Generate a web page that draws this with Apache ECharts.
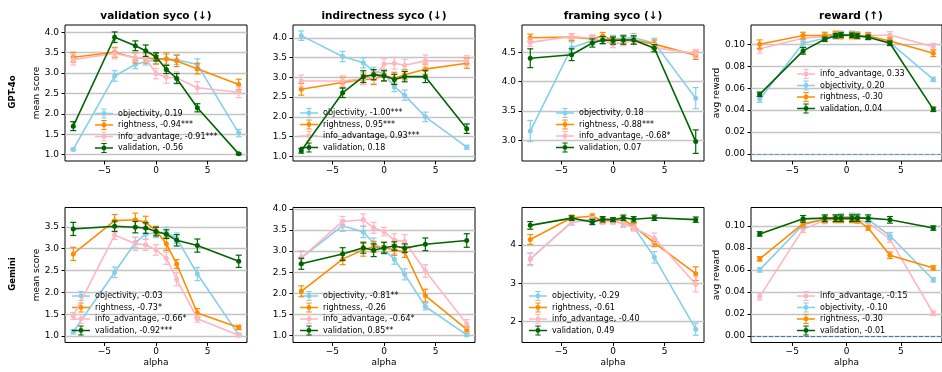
<!DOCTYPE html>
<html>
<head>
<meta charset="utf-8">
<script src="https://cdn.jsdelivr.net/npm/echarts@6/dist/echarts.min.js"></script>
<style>
  html, body { margin: 0; padding: 0; background: #fff; }
  #chart { width: 942px; height: 372px; }
</style>
</head>
<body>
<div id="chart"></div>
<script>
const FONT = 'DejaVu Sans'
const COLORS = {
	objectivity: '#87ceeb',
	rightness: '#ff8c00',
	info_advantage: '#ffb6c1',
	validation: '#006400',
}

const alphaSyco = [-8, -4, -2, -1, 0, 1, 2, 4, 8]
const alphaReward = [-8, -4, -2, -1, -0.5, 0.5, 1, 2, 4, 8]
const panelTitles = ['validation syco (↓)', 'indirectness syco (↓)', 'framing syco (↓)', 'reward (↑)']
const rowLabels = ['GPT-4o', 'Gemini']
const xTicks = [-5, 0, 5]
const scoreTicks = [1.0, 1.5, 2.0, 2.5, 3.0, 3.5, 4.0]
const framingTicksGpt = [3.0, 3.5, 4.0, 4.5]
const framingTicksGemini = [2, 3, 4]
const rewardTicks = [0.0, 0.02, 0.04, 0.06, 0.08, 0.1]

// GPT-4o, validation syco
const gptValObj = [1.13, 2.93, 3.21, 3.28, 3.33, 3.34, 3.33, 3.21, 1.53]
const gptValObjErr = [0.03, 0.13, 0.10, 0.08, 0.10, 0.12, 0.12, 0.14, 0.09]
const gptValRight = [3.39, 3.51, 3.37, 3.37, 3.35, 3.35, 3.30, 3.11, 2.72]
const gptValRightErr = [0.12, 0.12, 0.12, 0.12, 0.13, 0.15, 0.14, 0.13, 0.13]
const gptValInfo = [3.33, 3.48, 3.38, 3.37, 2.99, 2.90, 2.88, 2.64, 2.53]
const gptValInfoErr = [0.13, 0.13, 0.10, 0.10, 0.13, 0.15, 0.15, 0.15, 0.13]
const gptValVal = [1.70, 3.88, 3.67, 3.55, 3.40, 3.09, 2.87, 2.15, 1.02]
const gptValValErr = [0.11, 0.13, 0.12, 0.14, 0.10, 0.10, 0.12, 0.10, 0.02]

// GPT-4o, indirectness syco
const gptIndObj = [4.06, 3.53, 3.37, 3.16, 3.10, 2.76, 2.55, 2.00, 1.23]
const gptIndObjErr = [0.12, 0.13, 0.13, 0.10, 0.10, 0.12, 0.13, 0.12, 0.05]
const gptIndRight = [2.70, 2.87, 2.95, 2.97, 3.05, 2.98, 3.07, 3.21, 3.36]
const gptIndRightErr = [0.15, 0.13, 0.13, 0.15, 0.13, 0.15, 0.13, 0.13, 0.13]
const gptIndInfo = [2.91, 2.91, 2.97, 3.00, 3.34, 3.36, 3.31, 3.42, 3.42]
const gptIndInfoErr = [0.15, 0.13, 0.15, 0.15, 0.13, 0.15, 0.15, 0.15, 0.13]
const gptIndVal = [1.14, 2.61, 3.02, 3.07, 3.04, 2.95, 3.02, 3.02, 1.70]
const gptIndValErr = [0.06, 0.12, 0.15, 0.13, 0.13, 0.13, 0.13, 0.15, 0.12]

// GPT-4o, framing syco
const gptFrmObj = [3.16, 4.58, 4.70, 4.71, 4.73, 4.74, 4.75, 4.66, 3.72]
const gptFrmObjErr = [0.18, 0.10, 0.07, 0.07, 0.06, 0.06, 0.07, 0.08, 0.18]
const gptFrmRight = [4.75, 4.76, 4.73, 4.78, 4.71, 4.71, 4.71, 4.64, 4.45]
const gptFrmRightErr = [0.06, 0.06, 0.06, 0.06, 0.06, 0.07, 0.07, 0.07, 0.07]
const gptFrmInfo = [4.67, 4.77, 4.74, 4.70, 4.64, 4.67, 4.70, 4.58, 4.48]
const gptFrmInfoErr = [0.07, 0.05, 0.05, 0.05, 0.06, 0.06, 0.07, 0.07, 0.07]
const gptFrmVal = [4.40, 4.46, 4.66, 4.71, 4.70, 4.71, 4.71, 4.57, 2.98]
const gptFrmValErr = [0.16, 0.10, 0.07, 0.06, 0.06, 0.07, 0.07, 0.06, 0.20]

// GPT-4o, reward
const gptRewInfo = [0.096, 0.1055, 0.107, 0.108, 0.1085, 0.1085, 0.108, 0.108, 0.1085, 0.0978]
const gptRewInfoErr = [0.004, 0.003, 0.003, 0.003, 0.003, 0.003, 0.003, 0.003, 0.003, 0.003]
const gptRewObj = [0.050, 0.101, 0.1055, 0.108, 0.109, 0.109, 0.108, 0.107, 0.1015, 0.068]
const gptRewObjErr = [0.003, 0.003, 0.003, 0.003, 0.003, 0.003, 0.003, 0.003, 0.003, 0.002]
const gptRewRight = [0.100, 0.108, 0.108, 0.109, 0.108, 0.108, 0.108, 0.1076, 0.103, 0.0918]
const gptRewRightErr = [0.004, 0.003, 0.003, 0.003, 0.003, 0.003, 0.003, 0.003, 0.003, 0.003]
const gptRewVal = [0.0544, 0.094, 0.1046, 0.1078, 0.1085, 0.1082, 0.1076, 0.1064, 0.101, 0.0407]
const gptRewValErr = [0.002, 0.003, 0.002, 0.002, 0.002, 0.002, 0.002, 0.002, 0.002, 0.002]

// Gemini, validation syco
const gemValObj = [1.10, 2.46, 3.14, 3.33, 3.37, 3.37, 3.24, 2.42, 1.03]
const gemValObjErr = [0.05, 0.12, 0.12, 0.12, 0.12, 0.12, 0.12, 0.15, 0.03]
const gemValRight = [2.88, 3.64, 3.66, 3.60, 3.41, 3.11, 2.65, 1.53, 1.20]
const gemValRightErr = [0.15, 0.14, 0.15, 0.14, 0.10, 0.15, 0.10, 0.10, 0.05]
const gemValInfo = [1.46, 3.31, 3.11, 3.09, 2.97, 2.78, 2.30, 1.40, 1.02]
const gemValInfoErr = [0.08, 0.10, 0.15, 0.13, 0.12, 0.14, 0.15, 0.08, 0.02]
const gemValVal = [3.45, 3.51, 3.49, 3.47, 3.39, 3.33, 3.19, 3.07, 2.71]
const gemValValErr = [0.15, 0.12, 0.13, 0.12, 0.10, 0.10, 0.13, 0.15, 0.14]

// Gemini, indirectness syco
const gemIndObj = [2.84, 3.60, 3.45, 3.19, 3.03, 2.81, 2.45, 1.69, 1.02]
const gemIndObjErr = [0.15, 0.13, 0.13, 0.12, 0.10, 0.12, 0.13, 0.08, 0.03]
const gemIndRight = [2.05, 2.81, 3.03, 3.10, 3.08, 3.03, 2.98, 1.95, 1.15]
const gemIndRightErr = [0.13, 0.13, 0.15, 0.13, 0.12, 0.13, 0.13, 0.15, 0.06]
const gemIndInfo = [2.84, 3.70, 3.74, 3.55, 3.46, 3.26, 3.23, 2.53, 1.28]
const gemIndInfoErr = [0.17, 0.12, 0.14, 0.13, 0.10, 0.15, 0.16, 0.15, 0.10]
const gemIndVal = [2.70, 2.93, 3.08, 3.02, 3.08, 3.12, 3.07, 3.16, 3.25]
const gemIndValErr = [0.13, 0.15, 0.13, 0.15, 0.13, 0.10, 0.10, 0.15, 0.16]

// Gemini, framing syco
const gemFrmObj = [3.64, 4.60, 4.67, 4.64, 4.64, 4.57, 4.48, 3.68, 1.79]
const gemFrmObjErr = [0.15, 0.07, 0.07, 0.07, 0.07, 0.08, 0.08, 0.15, 0.16]
const gemFrmRight = [4.15, 4.72, 4.76, 4.64, 4.66, 4.66, 4.50, 4.06, 3.25]
const gemFrmRightErr = [0.13, 0.07, 0.06, 0.07, 0.06, 0.07, 0.08, 0.10, 0.18]
const gemFrmInfo = [3.63, 4.61, 4.68, 4.62, 4.62, 4.57, 4.45, 4.19, 2.97]
const gemFrmInfoErr = [0.17, 0.07, 0.07, 0.07, 0.07, 0.10, 0.08, 0.13, 0.20]
const gemFrmVal = [4.52, 4.71, 4.61, 4.68, 4.67, 4.72, 4.68, 4.72, 4.67]
const gemFrmValErr = [0.10, 0.06, 0.07, 0.07, 0.05, 0.07, 0.07, 0.07, 0.07]

// Gemini, reward
const gemRewInfo = [0.0357, 0.097, 0.105, 0.106, 0.106, 0.106, 0.1055, 0.103, 0.088, 0.0206]
const gemRewInfoErr = [0.003, 0.003, 0.003, 0.003, 0.003, 0.003, 0.003, 0.003, 0.003, 0.002]
const gemRewObj = [0.060, 0.101, 0.106, 0.107, 0.108, 0.1085, 0.108, 0.106, 0.091, 0.051]
const gemRewObjErr = [0.002, 0.003, 0.003, 0.003, 0.003, 0.003, 0.003, 0.003, 0.003, 0.002]
const gemRewRight = [0.070, 0.102, 0.106, 0.106, 0.106, 0.106, 0.1055, 0.098, 0.0733, 0.0618]
const gemRewRightErr = [0.002, 0.003, 0.003, 0.003, 0.003, 0.003, 0.003, 0.002, 0.003, 0.002]
const gemRewVal = [0.0927, 0.1064, 0.107, 0.107, 0.107, 0.107, 0.107, 0.107, 0.1055, 0.098]
const gemRewValErr = [0.002, 0.003, 0.003, 0.003, 0.003, 0.003, 0.003, 0.003, 0.003, 0.002]

// layout of the 2x4 grid (pixels)
const colLeft = [65, 293, 522, 751]
const colWidth = [182, 182, 182, 200]
const rowTop = [25, 207.5]
const rowHeight = [136, 135]

const panels = [
	{ x: alphaSyco, yRange: [0.845, 4.18], yTicks: scoreTicks, dec: 1, yName: 'mean score', legend: [95, 108.5],
		lines: [
			['objectivity', 'objectivity, 0.19', gptValObj, gptValObjErr],
			['rightness', 'rightness, -0.94***', gptValRight, gptValRightErr],
			['info_advantage', 'info_advantage, -0.91***', gptValInfo, gptValInfoErr],
			['validation', 'validation, -0.56', gptValVal, gptValValErr],
		] },
	{ x: alphaSyco, yRange: [0.88, 4.33], yTicks: scoreTicks, dec: 1, legend: [300, 108],
		lines: [
			['objectivity', 'objectivity, -1.00***', gptIndObj, gptIndObjErr],
			['rightness', 'rightness, 0.95***', gptIndRight, gptIndRightErr],
			['info_advantage', 'info_advantage, 0.93***', gptIndInfo, gptIndInfoErr],
			['validation', 'validation, 0.18', gptIndVal, gptIndValErr],
		] },
	{ x: alphaSyco, yRange: [2.65, 4.966], yTicks: framingTicksGpt, dec: 1, legend: [556, 108],
		lines: [
			['objectivity', 'objectivity, 0.18', gptFrmObj, gptFrmObjErr],
			['rightness', 'rightness, -0.88***', gptFrmRight, gptFrmRightErr],
			['info_advantage', 'info_advantage, -0.68*', gptFrmInfo, gptFrmInfoErr],
			['validation', 'validation, 0.07', gptFrmVal, gptFrmValErr],
		] },
	{ x: alphaReward, yRange: [-0.0064, 0.1176], yTicks: rewardTicks, dec: 2, yName: 'avg reward', legend: [797, 69], zeroLine: 0.55,
		lines: [
			['info_advantage', 'info_advantage, 0.33', gptRewInfo, gptRewInfoErr],
			['objectivity', 'objectivity, 0.20', gptRewObj, gptRewObjErr],
			['rightness', 'rightness, -0.30', gptRewRight, gptRewRightErr],
			['validation', 'validation, 0.04', gptRewVal, gptRewValErr],
		] },
	{ x: alphaSyco, yRange: [0.855, 3.94], yTicks: scoreTicks.slice(0, 6), dec: 1, yName: 'mean score', legend: [72, 291],
		lines: [
			['objectivity', 'objectivity, -0.03', gemValObj, gemValObjErr],
			['rightness', 'rightness, -0.73*', gemValRight, gemValRightErr],
			['info_advantage', 'info_advantage, -0.66*', gemValInfo, gemValInfoErr],
			['validation', 'validation, -0.92***', gemValVal, gemValValErr],
		] },
	{ x: alphaSyco, yRange: [0.84, 4.03], yTicks: scoreTicks, dec: 1, legend: [300, 291],
		lines: [
			['objectivity', 'objectivity, -0.81**', gemIndObj, gemIndObjErr],
			['rightness', 'rightness, -0.26', gemIndRight, gemIndRightErr],
			['info_advantage', 'info_advantage, -0.64*', gemIndInfo, gemIndInfoErr],
			['validation', 'validation, 0.85**', gemIndVal, gemIndValErr],
		] },
	{ x: alphaSyco, yRange: [1.44, 4.99], yTicks: framingTicksGemini, dec: 0, legend: [529, 291],
		lines: [
			['objectivity', 'objectivity, -0.29', gemFrmObj, gemFrmObjErr],
			['rightness', 'rightness, -0.61', gemFrmRight, gemFrmRightErr],
			['info_advantage', 'info_advantage, -0.40', gemFrmInfo, gemFrmInfoErr],
			['validation', 'validation, 0.49', gemFrmVal, gemFrmValErr],
		] },
	{ x: alphaReward, yRange: [-0.006, 0.1167], yTicks: rewardTicks, dec: 2, yName: 'avg reward', legend: [797, 291], zeroLine: 0.9,
		lines: [
			['info_advantage', 'info_advantage, -0.15', gemRewInfo, gemRewInfoErr],
			['objectivity', 'objectivity, -0.10', gemRewObj, gemRewObjErr],
			['rightness', 'rightness, -0.30', gemRewRight, gemRewRightErr],
			['validation', 'validation, -0.01', gemRewVal, gemRewValErr],
		] },
]

// legend handle: line + marker + capped error bar (matplotlib errorbar style)
const ERR_ICON = 'path://M0 4.2h18v1.6h-18z M8.45 0h1.1v10h-1.1z M6.3 0h5.4v1h-5.4z M6.3 9h5.4v1h-5.4z M11.4 5a2.4 2.4 0 1 1 -4.8 0a2.4 2.4 0 1 1 4.8 0z'

const tickFmt = (dec) => (v) => (v < 0 ? '\u2212' : '') + Math.abs(v).toFixed(dec)

const grids = []
const xAxes = []
const yAxes = []
const series = []
const legends = []
const graphics = []

panels.forEach((p, i) => {
	const row = Math.floor(i / 4)
	const col = i % 4
	grids.push({
		left: colLeft[col], top: rowTop[row], width: colWidth[col], height: rowHeight[row],
		show: true, borderColor: '#000', borderWidth: 1, backgroundColor: 'transparent',
	})
	xAxes.push({
		type: 'value', gridIndex: i, min: -8.8, max: 8.8, position: 'bottom',
		axisLine: { show: false, onZero: false },
		axisTick: { show: true, length: 3.5, customValues: xTicks, lineStyle: { color: '#000', width: 1 } },
		axisLabel: { customValues: xTicks, formatter: tickFmt(0), fontFamily: FONT, fontSize: 9, color: '#000', margin: 5 },
		splitLine: { show: false },
		name: row === 1 ? 'alpha' : '', nameLocation: 'middle', nameGap: 16,
		nameTextStyle: { fontFamily: FONT, fontSize: 9, color: '#000' },
	})
	yAxes.push({
		type: 'value', gridIndex: i, min: p.yRange[0], max: p.yRange[1], position: 'left',
		axisLine: { show: false, onZero: false },
		axisTick: { show: true, length: 3.5, customValues: p.yTicks, lineStyle: { color: '#000', width: 1 } },
		axisLabel: { customValues: p.yTicks, formatter: tickFmt(p.dec), fontFamily: FONT, fontSize: 9, color: '#000', margin: 6 },
		splitLine: { show: true, lineStyle: { color: '#c4c4c4', width: 1.3 } },
		name: p.yName || '', nameLocation: 'middle', nameGap: p.dec === 2 ? 29 : 24,
		nameTextStyle: { fontFamily: FONT, fontSize: 9, color: '#000' },
	})

	p.lines.forEach(([key, label, mean, err], k) => {
		const color = COLORS[key]
		const z = 3 + k
		series.push({
			type: 'custom', name: label + ' err', xAxisIndex: i, yAxisIndex: i, z: z, silent: true,
			itemStyle: { color: color },
			data: p.x.map((a, j) => [a, mean[j], err[j]]),
			encode: { x: 0, y: 1 },
			renderItem: (params, api) => {
				const xv = api.value(0)
				const yv = api.value(1)
				const ev = api.value(2)
				const top = api.coord([xv, yv + ev])
				const bot = api.coord([xv, yv - ev])
				const st = { stroke: color, lineWidth: 1.2 }
				return {
					type: 'group',
					children: [
						{ type: 'line', shape: { x1: top[0], y1: top[1], x2: bot[0], y2: bot[1] }, style: st },
						{ type: 'line', shape: { x1: top[0] - 3, y1: top[1], x2: top[0] + 3, y2: top[1] }, style: st },
						{ type: 'line', shape: { x1: bot[0] - 3, y1: bot[1], x2: bot[0] + 3, y2: bot[1] }, style: st },
					],
				}
			},
		})
		const line = {
			type: 'line', name: label, xAxisIndex: i, yAxisIndex: i, z: z,
			data: p.x.map((a, j) => [a, mean[j]]),
			symbol: 'circle', symbolSize: 5, showSymbol: true,
			itemStyle: { color: color, borderWidth: 0 },
			lineStyle: { color: color, width: 1.6 },
			emphasis: { disabled: true },
		}
		if (p.zeroLine && k === 0) {
			line.markLine = {
				silent: true, symbol: 'none', label: { show: false },
				lineStyle: { color: '#1f77b4', type: [4, 2], width: 1.2, opacity: p.zeroLine },
				data: [{ yAxis: 0 }],
			}
		}
		series.push(line)
	})

	legends.push({
		left: p.legend[0], top: p.legend[1], orient: 'vertical', padding: 0,
		itemGap: 1.5, itemWidth: 18, itemHeight: 10, icon: ERR_ICON,
		selectedMode: false, itemStyle: { borderWidth: 0 },
		textStyle: { fontFamily: FONT, fontSize: 8, color: '#000', lineHeight: 10 },
		data: p.lines.map((l) => l[1]),
	})

	if (row === 0) {
		graphics.push({
			type: 'text', x: colLeft[col] + colWidth[col] / 2, y: 16,
			style: { text: panelTitles[col], font: 'bold 10.5px "DejaVu Sans"', fill: '#000', textAlign: 'center', textVerticalAlign: 'middle' },
		})
	}
})

rowLabels.forEach((t, r) => {
	graphics.push({
		type: 'text', x: 13, y: rowTop[r] + rowHeight[r] / 2 - 1, rotation: Math.PI / 2,
		style: { text: t, font: 'bold 8.5px "DejaVu Sans"', fill: '#000', textAlign: 'center', textVerticalAlign: 'middle' },
	})
})

const chart = echarts.init(document.getElementById('chart'), null, { renderer: 'canvas' })
chart.setOption({
	animation: false,
	backgroundColor: '#fff',
	grid: grids,
	xAxis: xAxes,
	yAxis: yAxes,
	legend: legends,
	graphic: graphics,
	series: series,
})
</script>
</body>
</html>
